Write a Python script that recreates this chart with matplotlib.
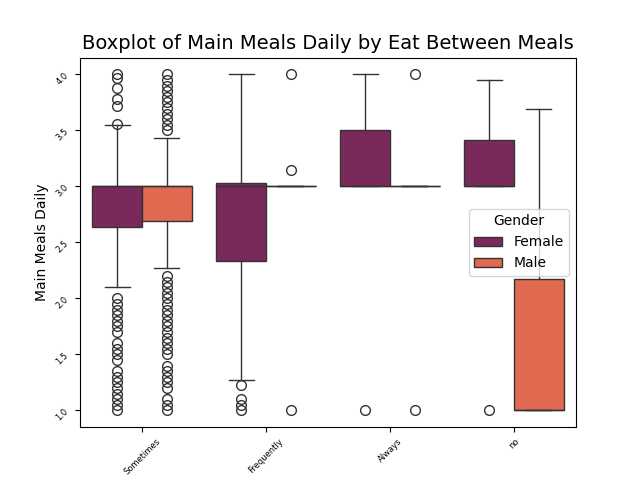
import matplotlib.pyplot as plt

categories = ['Sometimes', 'Frequently', 'Always', 'no']
genders = ['Female', 'Male']
colors = ['#7a2a5a', '#e0694f']

# (whislo, q1, med, q3, whishi) per category per gender
female_stats = [(2.1, 2.64, 3.0, 3.0, 3.55), (1.27, 2.33, 3.0, 3.03, 4.0),
                (3.0, 3.0, 3.0, 3.5, 4.0), (3.0, 3.0, 3.0, 3.41, 3.95)]
male_stats = [(2.27, 2.69, 3.0, 3.0, 3.43), (3.0, 3.0, 3.0, 3.0, 3.0),
              (3.0, 3.0, 3.0, 3.0, 3.0), (1.0, 1.0, 1.0, 2.17, 3.69)]
female_fliers = [[1.0, 1.05, 1.1, 1.15, 1.2, 1.25, 1.3, 1.35, 1.45, 1.5, 1.55, 1.6, 1.7,
                  1.75, 1.8, 1.85, 1.9, 1.95, 2.0, 3.56, 3.72, 3.78, 3.88, 3.97, 4.0],
                 [1.0, 1.05, 1.1, 1.23], [1.0], [1.0]]
male_fliers = [[1.0, 1.05, 1.1, 1.2, 1.25, 1.3, 1.35, 1.4, 1.5, 1.55, 1.6, 1.65, 1.7,
                1.75, 1.8, 1.85, 1.9, 1.95, 2.0, 2.05, 2.1, 2.15, 2.2, 3.5, 3.55, 3.6,
                3.65, 3.7, 3.75, 3.8, 3.85, 3.9, 3.95, 4.0],
               [1.0, 3.15, 4.0], [1.0, 4.0], []]

fig, ax = plt.subplots(figsize=(6.4, 4.8), dpi=100)
for g, (stats_list, fl_list) in enumerate([(female_stats, female_fliers), (male_stats, male_fliers)]):
    stats = []
    for (lo, q1, med, q3, hi), fl in zip(stats_list, fl_list):
        stats.append(dict(whislo=lo, q1=q1, med=med, q3=q3, whishi=hi, fliers=fl))
    pos = [i + (-0.2 if g == 0 else 0.2) for i in range(len(categories))]
    ax.bxp(stats, positions=pos, widths=0.4, patch_artist=True, showfliers=True,
           boxprops=dict(facecolor=colors[g], edgecolor='#333333'),
           medianprops=dict(color='#333333'), whiskerprops=dict(color='#333333'),
           capprops=dict(color='#333333'),
           flierprops=dict(marker='o', markerfacecolor='none', markeredgecolor='#333333', markersize=7))
ax.set_xticks(range(len(categories)))
ax.set_xticklabels(categories, rotation=45, fontsize=6)
ax.set_xlim(-0.5, 3.5)
ax.set_ylim(0.85, 4.15)
ax.tick_params(axis='y', labelrotation=45, labelsize=6)
ax.set_ylabel('Main Meals Daily')
ax.set_title('Boxplot of Main Meals Daily by Eat Between Meals', fontsize=14)
handles = [plt.Rectangle((0, 0), 1, 1, facecolor=c, edgecolor='#333333') for c in colors]
ax.legend(handles, genders, title='Gender', loc='center right', fontsize=10)
fig.savefig('out.png')
